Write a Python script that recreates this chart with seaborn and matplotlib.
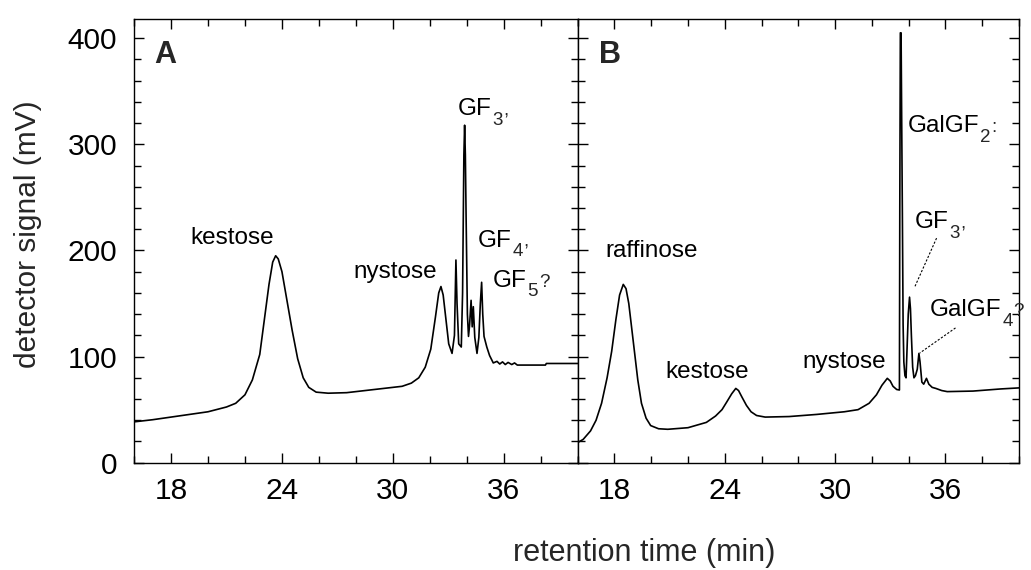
import numpy as np
import pandas as pd
import matplotlib
matplotlib.use("Agg")
import matplotlib.pyplot as plt
import seaborn as sns

# ---------------- data ----------------
time_a = [16.0, 17.0, 18.0, 19.0, 20.0, 21.0, 21.5, 22.0, 22.4, 22.8, 23.05, 23.3, 23.5,
          23.66, 23.8, 24.0, 24.25, 24.55, 24.85, 25.15, 25.45, 25.85, 26.5, 27.5, 28.5,
          29.5, 30.5, 31.0, 31.4, 31.75, 32.05, 32.3, 32.48, 32.6, 32.72, 32.87, 33.02,
          33.2, 33.33, 33.41, 33.47, 33.56, 33.7, 33.77, 33.84, 33.88, 33.92, 33.96, 34.03,
          34.09, 34.15, 34.23, 34.29, 34.35, 34.43, 34.55, 34.65, 34.73, 34.8, 34.86, 34.93,
          35.08, 35.23, 35.43, 35.63, 35.78, 35.93, 36.08, 36.23, 36.43, 36.58, 36.73, 37.4,
          38.25, 38.3, 40.0]
signal_a = [38.5, 40.5, 43, 45.5, 48, 52.5, 56, 64, 78, 102, 135, 168, 189,
            195, 192, 180, 155, 125, 98, 80, 71, 66.5, 65.5, 66, 68,
            70, 72, 75, 80, 90, 107, 137, 160, 166, 158, 135, 112,
            103, 120, 191, 150, 112, 109, 160, 290, 318, 290, 232, 140,
            119, 130, 153, 128, 147, 118, 103, 118, 150, 170, 140, 119,
            109, 101, 94, 95.5, 93, 95, 92.5, 94.5, 92.5, 94, 92, 92,
            92, 93.5, 93.5]

time_b = [16.0, 16.3, 16.7, 17.0, 17.3, 17.6, 17.85, 18.08, 18.28, 18.48, 18.63, 18.78,
          18.93, 19.1, 19.27, 19.47, 19.72, 19.97, 20.4, 20.9, 22.0, 23.0, 23.5, 23.85,
          24.1, 24.38, 24.6, 24.75, 24.93, 25.18, 25.43, 25.73, 26.2, 27.5, 29.0, 30.5,
          31.25, 31.85, 32.25, 32.55, 32.84, 33.0, 33.15, 33.35, 33.5, 33.52, 33.55, 33.59,
          33.62, 33.66, 33.7, 33.74, 33.8, 33.86, 33.92, 33.98, 34.05, 34.1, 34.15, 34.22,
          34.29, 34.37, 34.47, 34.56, 34.62, 34.72, 34.82, 34.97, 35.1, 35.28, 35.48, 35.8,
          36.1, 37.5, 39.0, 40.0]
signal_b = [19, 22, 30, 40, 56, 80, 105, 135, 158, 168, 164, 150,
            128, 103, 78, 56, 42, 35, 32, 31.5, 33, 38, 44, 50,
            57, 65, 70, 68, 62, 54, 48, 44.5, 43, 43.5, 45.5, 48,
            50, 56, 64, 73, 79.5, 77, 72, 69, 68.5, 240, 405, 405,
            330, 235, 130, 95, 82, 80, 110, 140, 156, 145, 120, 90,
            80, 82, 88, 103, 95, 76, 74, 79.5, 74, 71, 70, 68,
            67, 67.5, 69.5, 70.5]

# annotations: (main text, subscript, trailing mark, x, y) -- left/baseline anchored
labels_a = [("kestose", "", "", 19.03, 206), ("nystose", "", "", 27.87, 174),
            ("GF", "3", ",", 33.52, 327.5), ("GF", "4", ",", 34.6, 203.5),
            ("GF", "5", "?", 35.42, 166)]
labels_b = [("raffinose", "", "", 17.48, 194), ("kestose", "", "", 20.75, 80),
            ("nystose", "", "", 28.25, 89),
            ("GalGF", "2", ":", 33.96, 311.5), ("GF", "3", ",", 34.34, 221),
            ("GalGF", "4", "?", 35.16, 138)]
leaders_b = [((35.52, 211.6), (34.34, 165.9)), ((36.55, 127.0), (34.61, 103.4))]
panel_letters = ["A", "B"]
x_ticks = [18, 24, 30, 36]
y_ticks = [0, 100, 200, 300, 400]

# ---------------- style ----------------
sns.set_theme(style="ticks")
plt.rcParams["font.family"] = ["Liberation Sans", "DejaVu Sans"]

fig = plt.figure(figsize=(10.31, 5.70), dpi=100)
ax_a = fig.add_axes([0.1300, 0.1882, 0.4304, 0.7784])
ax_b = fig.add_axes([0.5603, 0.1882, 0.4280, 0.7784])

df_a = pd.DataFrame({"time": time_a, "signal": signal_a})
df_b = pd.DataFrame({"time": time_b, "signal": signal_b})

for ax, df in ((ax_a, df_a), (ax_b, df_b)):
    sns.lineplot(data=df, x="time", y="signal", ax=ax, sort=False, estimator=None,
                 color="black", linewidth=1.2)
    ax.set_xlim(16, 40)
    ax.set_ylim(0, 418)
    ax.set_xticks(x_ticks)
    ax.set_xticks(np.arange(16, 41, 2), minor=True)
    ax.set_yticks(y_ticks)
    ax.set_yticks(np.arange(0, 420, 20), minor=True)
    ax.tick_params(which="both", direction="in", top=True, right=True,
                   colors="black", width=1.0)
    ax.tick_params(which="major", length=7)
    ax.tick_params(which="minor", length=5)
    ax.tick_params(axis="x", which="major", labelsize=21.5, pad=10)
    ax.tick_params(axis="y", which="major", labelsize=21.5, pad=12)
    ax.set_xlabel("")
    ax.set_ylabel("")
    for s in ax.spines.values():
        s.set_visible(True)
        s.set_color("black")
        s.set_linewidth(1.0)

ax_b.tick_params(axis="y", labelleft=False)

fig.canvas.draw()
renderer = fig.canvas.get_renderer()
MAIN_FS, SUB_FS, DROP = 17.5, 13.5, 7.0


def width_pt(artist):
    return artist.get_window_extent(renderer).width * 72.0 / fig.dpi


for ax, labels in ((ax_a, labels_a), (ax_b, labels_b)):
    for main, sub, tail, x, y in labels:
        t = ax.text(x, y, main, ha="left", va="baseline", fontsize=MAIN_FS,
                    color="black", clip_on=False)
        off = width_pt(t) + 0.5
        if sub:
            s = ax.annotate(sub, xy=(x, y), xytext=(off, -DROP), textcoords="offset points",
                            ha="left", va="baseline", fontsize=SUB_FS, annotation_clip=False)
            off += width_pt(s) + 0.5
        if tail:
            ax.annotate(tail, xy=(x, y), xytext=(off, 0), textcoords="offset points",
                        ha="left", va="baseline", fontsize=SUB_FS, annotation_clip=False)

for (x0, y0), (x1, y1) in leaders_b:
    ax_b.plot([x0, x1], [y0, y1], color="black", linewidth=0.8, linestyle=(0, (2, 1.5)))

ax_a.text(17.08, 377, panel_letters[0], fontsize=22, fontweight="bold", ha="left", va="baseline")
ax_b.text(17.17, 377, panel_letters[1], fontsize=22, fontweight="bold", ha="left", va="baseline")

fig.text(28 / 1031, 1 - 234 / 570, "detector signal (mV)", rotation=90,
         ha="center", va="center", fontsize=21.5)
fig.text(644 / 1031, 1 - 553 / 570, "retention time (min)", ha="center", va="center",
         fontsize=22)

fig.savefig("out.png", dpi=100)
